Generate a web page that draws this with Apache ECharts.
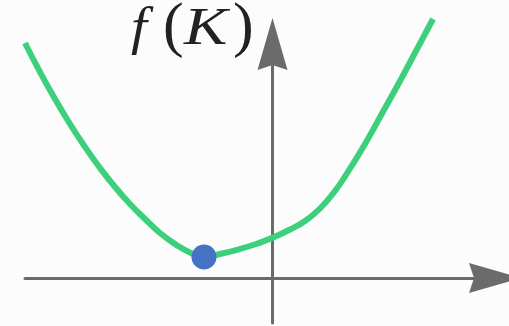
<!DOCTYPE html>
<html>
<head>
<meta charset="utf-8">
<style>
  html, body { margin: 0; padding: 0; background: #fcfcfc; }
  #chart { width: 509px; height: 326px; }
</style>
<script src="https://cdn.jsdelivr.net/npm/echarts@6/dist/echarts.min.js"></script>
</head>
<body>
<div id="chart"></div>
<script>
/* 볼록 함수 f(K) 스케치: 초록 곡선 + 최소점(파란 점), 화살표 축. */
var curveK = [-247.5, -232.5, -217.5, -202.5, -187.5, -172.5, -157.5, -142.5, -127.5, -112.5, -97.5, -82.5, -68.5,
              -52.5, -32.5, -16.5, 0.5, 16.5, 32.5, 47.5, 62.5, 77.5, 92.5, 109.5, 127.5, 143.5, 160.5];
var curveF = [235, 206, 179, 154, 131, 110, 91, 74, 59, 45, 34, 25.5, 21,
              24, 29, 34, 40.5, 48, 57, 69.5, 87, 109.5, 134, 164.5, 197, 227, 259];
var minK = [-68.5];
var minF = [21];
var xRange = [-247.5, 222.5];
var yRange = [-45, 234];
var label = ["f", "(", "K", ")"];

(function () {
  "use strict";
  var AXIS = "#6b6b6b";
  var ARROW = "path://M15,0 L30,52 L15,47 L0,52 Z";

  var line = curveK.map(function (k, i) { return [k, curveF[i]]; });
  var dot = minK.map(function (k, i) { return [k, minF[i]]; });

  function axis(range) {
    return {
      type: "value", min: range[0], max: range[1],
      axisLine: {
        show: true, onZero: true,
        symbol: ["none", ARROW], symbolSize: [30, 52],
        lineStyle: { color: AXIS, width: 3 }
      },
      axisTick: { show: false }, axisLabel: { show: false },
      splitLine: { show: false }
    };
  }

  // 글자별 위치 (LaTeX 풍: 괄호는 정체, 크게)
  var glyph = {
    "f": { x: 131, y: 30, size: 52, italic: true, sx: 1.1 },
    "(": { x: 163, y: 28.5, size: 62, italic: false, sx: 1 },
    "K": { x: 184, y: 30, size: 52, italic: true, sx: 1.25 },
    ")": { x: 233, y: 28.5, size: 62, italic: false, sx: 1 }
  };
  var texts = label.map(function (t) {
    var g = glyph[t];
    return {
      type: "text", x: g.x, y: g.y, scaleX: g.sx, originX: 0, originY: 0,
      style: {
        text: t, fill: "#222",
        font: (g.italic ? "italic " : "normal ") + g.size + "px 'Liberation Serif'",
        align: "left", verticalAlign: "middle"
      }
    };
  });

  var chart = echarts.init(document.getElementById("chart"));
  chart.setOption({
    backgroundColor: "#fcfcfc",
    animation: false,
    grid: { left: 25, right: 14, top: 44, bottom: 3 },
    xAxis: axis(xRange),
    yAxis: axis(yRange),
    graphic: texts,
    series: [{
      type: "line", data: line, smooth: 0.5, clip: false,
      showSymbol: false, z: 3,
      lineStyle: { color: "#3ccf7c", width: 6, cap: "butt" }
    }, {
      type: "scatter", data: dot, symbolSize: 25, z: 4,
      itemStyle: { color: "#4472c4", opacity: 1 }
    }]
  });
})();
</script>
</body>
</html>
